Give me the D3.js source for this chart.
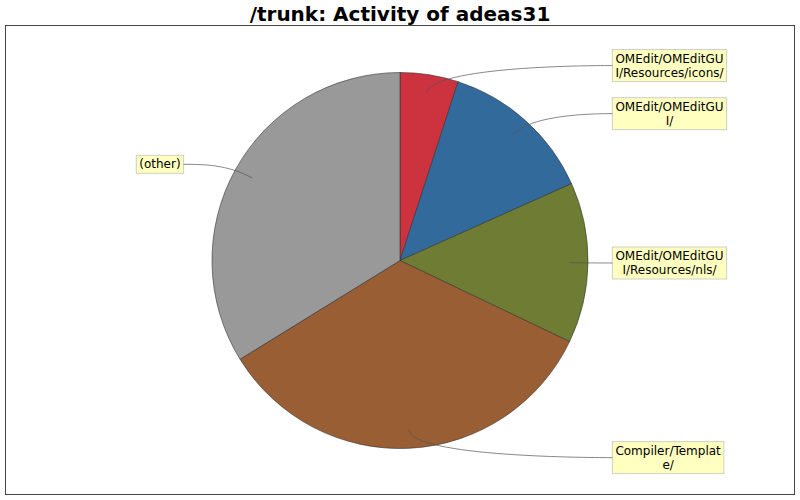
<!DOCTYPE html>
<html>
<head>
<meta charset="utf-8">
<script src="https://cdn.jsdelivr.net/npm/d3@7"></script>
<style>
  body { margin: 0; background: #fff; }
  svg { display: block; font-family: "DejaVu Sans", sans-serif; }
</style>
</head>
<body>
<svg width="800" height="500"></svg>
<script>
// Data (share of activity, percent), clockwise from 12 o'clock
var categories = [
    "OMEdit/OMEditGUI/Resources/icons/",
    "OMEdit/OMEditGUI/",
    "OMEdit/OMEditGUI/Resources/nls/",
    "Compiler/Template/",
    "(other)"
];
var values = [5.0, 13.3, 13.8, 34.1, 33.8];
var colors = ["#cc333f", "#336a9c", "#6e7d33", "#995e33", "#999999"];
var title = "/trunk: Activity of adeas31";

var svg = d3.select("svg"),
    width = +svg.attr("width"),
    height = +svg.attr("height");

// plot frame
var frame = { left: 5.5, top: 25.5, right: 794.5, bottom: 494.5 };

var cx = 400,
    cy = 260.5,
    radius = 188;

svg.append("text")
    .attr("x", width / 2)
    .attr("y", 21)
    .attr("text-anchor", "middle")
    .style("font-size", "20px")
    .style("font-weight", "bold")
    .text(title);

svg.append("rect")
    .attr("x", frame.left)
    .attr("y", frame.top)
    .attr("width", frame.right - frame.left)
    .attr("height", frame.bottom - frame.top)
    .attr("fill", "none")
    .attr("stroke", "#444")
    .attr("stroke-width", 1);

var data = categories.map(function (c, i) {
    return { name: c, value: values[i], color: colors[i] };
});

var pie = d3.pie()
    .sort(null)
    .value(function (d) { return d.value; });

var arc = d3.arc()
    .innerRadius(0)
    .outerRadius(radius);

var arcs = pie(data);

var g = svg.append("g")
    .attr("transform", "translate(" + cx + "," + cy + ")");

g.selectAll(".slice")
    .data(arcs)
    .enter().append("path")
    .attr("class", "slice")
    .attr("d", arc)
    .attr("fill", function (d) { return d.data.color; })
    .attr("stroke", "#333")
    .attr("stroke-width", 0.6)
    .attr("stroke-linejoin", "round");

// label placement, jfreechart style
var linkR = radius * 0.9,
    elbowR = radius * 1.05,
    gapRight = 15,
    gapLeft = 19,
    maxWidth = 110,
    lineH = 14,
    padX = 3,
    padY = 2;

var labels = svg.append("g").style("font-size", "12px");

// wrap a label by width, breaking inside words like jfreechart does
function wrap(text) {
    var probe = labels.append("text").attr("visibility", "hidden");
    var lines = [], cur = "";
    for (var i = 0; i < text.length; i++) {
        var next = cur + text[i];
        probe.text(next);
        if (cur && probe.node().getComputedTextLength() > maxWidth) {
            lines.push(cur);
            cur = text[i];
        } else {
            cur = next;
        }
    }
    if (cur) lines.push(cur);
    probe.remove();
    return lines;
}

arcs.forEach(function (d) {
    var mid = (d.startAngle + d.endAngle) / 2,
        s = Math.sin(mid),
        c = Math.cos(mid),
        right = s >= 0;

    var linkX = cx + linkR * s, linkY = cy - linkR * c,
        elbowX = cx + elbowR * s, elbowY = cy - elbowR * c,
        anchorX = right ? cx + elbowR : cx - elbowR,
        targetX = right ? anchorX + gapRight : anchorX - gapLeft,
        targetY = elbowY;

    svg.append("path")
        .attr("d", "M" + targetX + "," + targetY +
            "C" + anchorX + "," + targetY + " " + elbowX + "," + elbowY +
            " " + linkX + "," + linkY)
        .attr("fill", "none")
        .attr("stroke", "#555")
        .attr("stroke-width", 0.7);

    var lines = wrap(d.data.name);
    var lab = labels.append("g");
    var txt = lab.append("text").attr("text-anchor", "middle");
    txt.selectAll("tspan")
        .data(lines)
        .enter().append("tspan")
        .text(function (l) { return l; });

    var w = 0;
    txt.selectAll("tspan").each(function () {
        w = Math.max(w, this.getComputedTextLength());
    });
    var boxW = w + 2 * padX,
        boxH = lines.length * lineH + 2 * padY,
        boxX = right ? targetX : targetX - boxW,
        boxY = targetY - boxH / 2;

    lab.insert("rect", "text")
        .attr("x", boxX)
        .attr("y", boxY)
        .attr("width", boxW)
        .attr("height", boxH)
        .attr("fill", "#ffffc0")
        .attr("stroke", "#d0d0c0")
        .attr("stroke-width", 1);

    txt.selectAll("tspan")
        .attr("x", boxX + boxW / 2)
        .attr("y", function (l, i) { return boxY + padY + 11 + i * lineH; });
});
</script>
</body>
</html>
